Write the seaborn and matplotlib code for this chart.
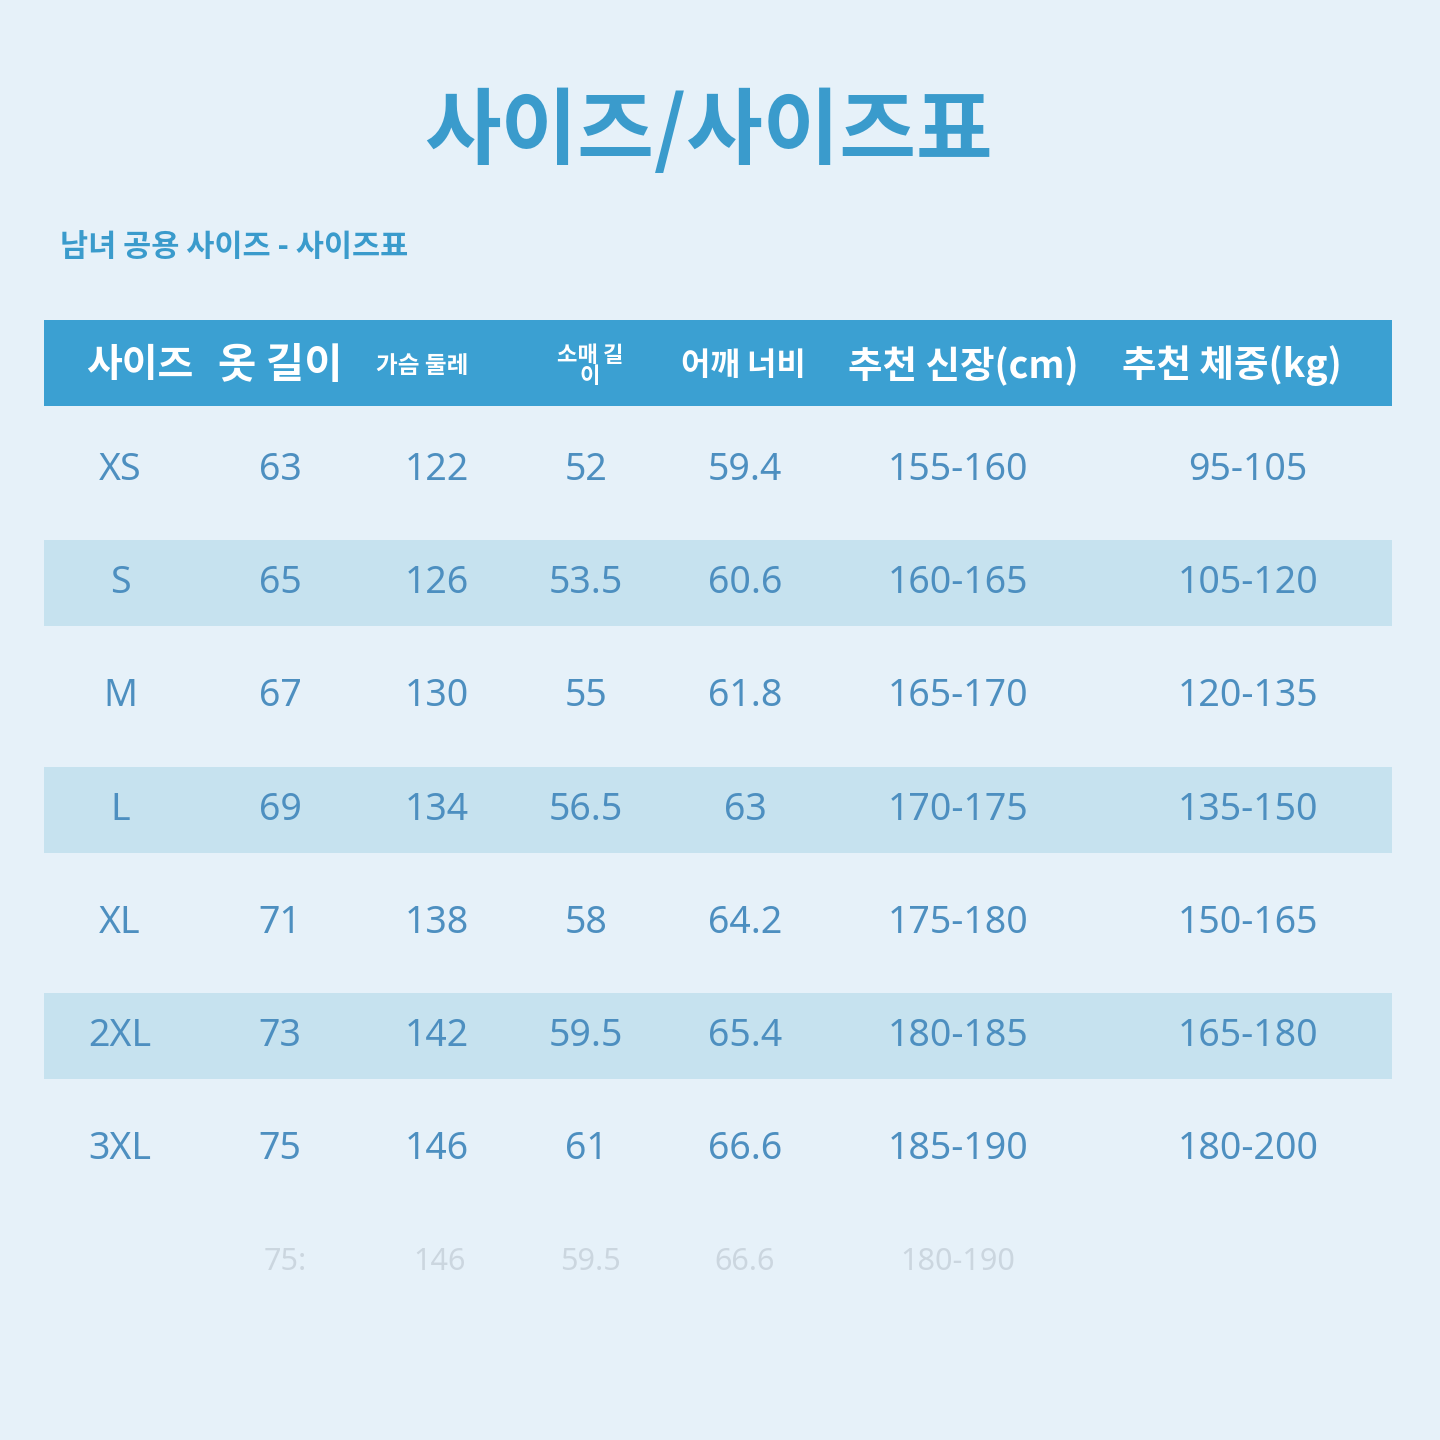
import matplotlib
matplotlib.use("Agg")
import matplotlib.pyplot as plt
import seaborn as sns

# 표 데이터
sizes = ["XS", "S", "M", "L", "XL", "2XL", "3XL"]
length = ["63", "65", "67", "69", "71", "73", "75"]
chest = ["122", "126", "130", "134", "138", "142", "146"]
sleeve = ["52", "53.5", "55", "56.5", "58", "59.5", "61"]
shoulder = ["59.4", "60.6", "61.8", "63", "64.2", "65.4", "66.6"]
height = ["155-160", "160-165", "165-170", "170-175", "175-180", "180-185", "185-190"]
weight = ["95-105", "105-120", "120-135", "135-150", "150-165", "165-180", "180-200"]

title = "사이즈/사이즈표"
subtitle = "남녀 공용 사이즈 - 사이즈표"

sns.set_theme(style="white")
plt.rcParams['font.family'] = ['Noto Sans CJK KR', 'DejaVu Sans']

BG = "#e6f1f9"
BLUE = "#3ba0d2"
TXT = "#4d8fc0"
STRIPE = "#c6e2ef"

fig = plt.figure(figsize=(14.4, 14.4), dpi=100, facecolor=BG)
ax = fig.add_axes([0, 0, 1, 1])
ax.set_facecolor(BG)
ax.set_xlim(0, 1440)
ax.set_ylim(1440, 0)
ax.axis("off")

ax.text(708, 133, title, ha="center", va="center", fontsize=60, fontweight="bold", color="#3a9bcc")
ax.text(60, 247, subtitle, ha="left", va="center", fontsize=22, fontweight="bold", color="#3a9bcc")

# 헤더
ax.add_patch(plt.Rectangle((44, 320), 1348, 86, color=BLUE, lw=0))
headers = [(140, "사이즈", 28), (280, "옷 길이", 30), (422, "가슴 둘레", 17),
           (590, "소매 길\n이", 16), (743, "어깨 너비", 23), (963, "추천 신장(cm)", 27),
           (1232, "추천 체중(kg)", 27)]
for x, s, fs in headers:
    ax.text(x, 366, s, ha="center", va="center", fontsize=fs, fontweight="bold",
            color="white", linespacing=0.9)

cols = [sizes, length, chest, sleeve, shoulder, height, weight]
xs = [120, 280, 437, 586, 745, 958, 1248]
row_y0 = 470
row_h = 113.2
num_font = ['Noto Sans', 'DejaVu Sans']
for i in range(len(sizes)):
    y = row_y0 + i * row_h
    if i % 2 == 1:
        ax.add_patch(plt.Rectangle((44, y - 43), 1348, 86, color=STRIPE, lw=0))
    for x, col in zip(xs, cols):
        ax.text(x, y, col[i], ha="center", va="center", fontsize=27,
                color=TXT, family=num_font, fontstretch="condensed")

# 흐릿한 잔상 행
ghost = [(285, "75:"), (440, "146"), (590, "59.5"), (745, "66.6"), (958, "180-190")]
for x, s in ghost:
    ax.text(x, 1262, s, ha="center", va="center", fontsize=22, color="#9aa4b0",
            alpha=0.35, family=num_font)

fig.savefig("out.png", dpi=100, facecolor=BG)
